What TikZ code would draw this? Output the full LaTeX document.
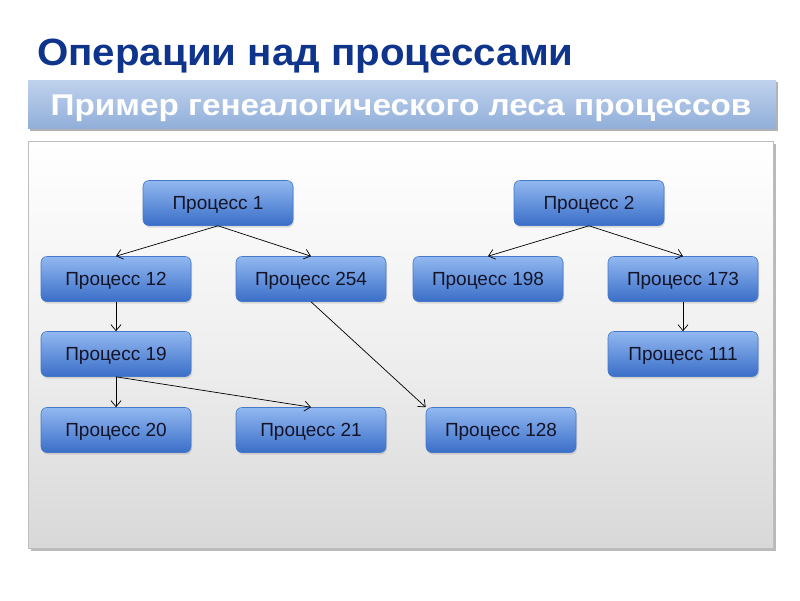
\documentclass[tikz,border=0pt]{standalone}
\usepackage{fontspec}
\setmainfont{Liberation Sans}
\usetikzlibrary{arrows.meta,shadows}
\definecolor{titleblue}{RGB}{14,52,140}
\definecolor{bantop}{RGB}{192,210,236}
\definecolor{banbot}{RGB}{145,175,218}
\definecolor{proctop}{RGB}{146,184,240}
\definecolor{procbot}{RGB}{58,110,200}
\definecolor{procline}{RGB}{70,120,200}
\definecolor{paneltop}{RGB}{255,255,255}
\definecolor{panelbot}{RGB}{216,216,216}
\definecolor{panelline}{RGB}{190,190,190}
\definecolor{proctext}{RGB}{20,20,40}
\begin{document}
\begin{tikzpicture}[x=1pt,y=-1pt,
  proc/.style={draw=procline, line width=0.6pt, rounded corners=6pt,
    top color=proctop, bottom color=procbot,
    minimum width=150pt, minimum height=45pt, inner sep=0pt,
    text height=14pt, text depth=2pt,
    text=proctext, font=\fontsize{19}{22}\selectfont,
    drop shadow={shadow xshift=1pt, shadow yshift=-2pt, opacity=0.25}},
  link/.style={draw=black, line width=0.7pt, -{Straight Barb[length=6pt,width=10pt]}}
]
\useasboundingbox (0,0) rectangle (800,600);
\fill[white] (0,0) rectangle (800,600);
% title
\node[anchor=base west, inner sep=0pt, text=titleblue,
  font=\fontsize{38}{44}\selectfont\bfseries] (title) at (37,65) {\scalebox{1.06}[1]{Операции над процессами}};
% banner
\fill[gray!60] (30,82) rectangle (778,131);
\shade[top color=bantop, bottom color=banbot] (28,80) rectangle (776,128);
\node[anchor=base, text=white, font=\fontsize{30}{34}\selectfont\bfseries, inner sep=0pt] (subtitle) at (401,115) {\scalebox{1.11}[1]{Пример генеалогического леса процессов}};
% panel
\fill[gray!55] (31,144) rectangle (776,551);
\shade[top color=paneltop, bottom color=panelbot, middle color=paneltop!60!panelbot] (28,141) rectangle (773,548);
\draw[panelline, line width=0.8pt] (28,141) rectangle (773,548);
% nodes
\node[proc] (p1) at (218,203) {Процесс 1};
\node[proc] (p2) at (589,203) {Процесс 2};
\node[proc] (p12) at (116,279) {Процесс 12};
\node[proc] (p254) at (311,279) {Процесс 254};
\node[proc] (p198) at (488,279) {Процесс 198};
\node[proc] (p173) at (683,279) {Процесс 173};
\node[proc] (p19) at (116,354) {Процесс 19};
\node[proc] (p111) at (683,354) {Процесс 111};
\node[proc] (p20) at (116,430) {Процесс 20};
\node[proc] (p21) at (311,430) {Процесс 21};
\node[proc] (p128) at (501,430) {Процесс 128};
% links
\draw[link] (p1.south) -- (p12.north);
\draw[link] (p1.south) -- (p254.north);
\draw[link] (p2.south) -- (p198.north);
\draw[link] (p2.south) -- (p173.north);
\draw[link] (p12.south) -- (p19.north);
\draw[link] (p173.south) -- (p111.north);
\draw[link] (p19.south) -- (p20.north);
\draw[link] (p19.south) -- (p21.north);
\draw[link] (p254.south) -- (p128.north west);
\end{tikzpicture}
\end{document}
